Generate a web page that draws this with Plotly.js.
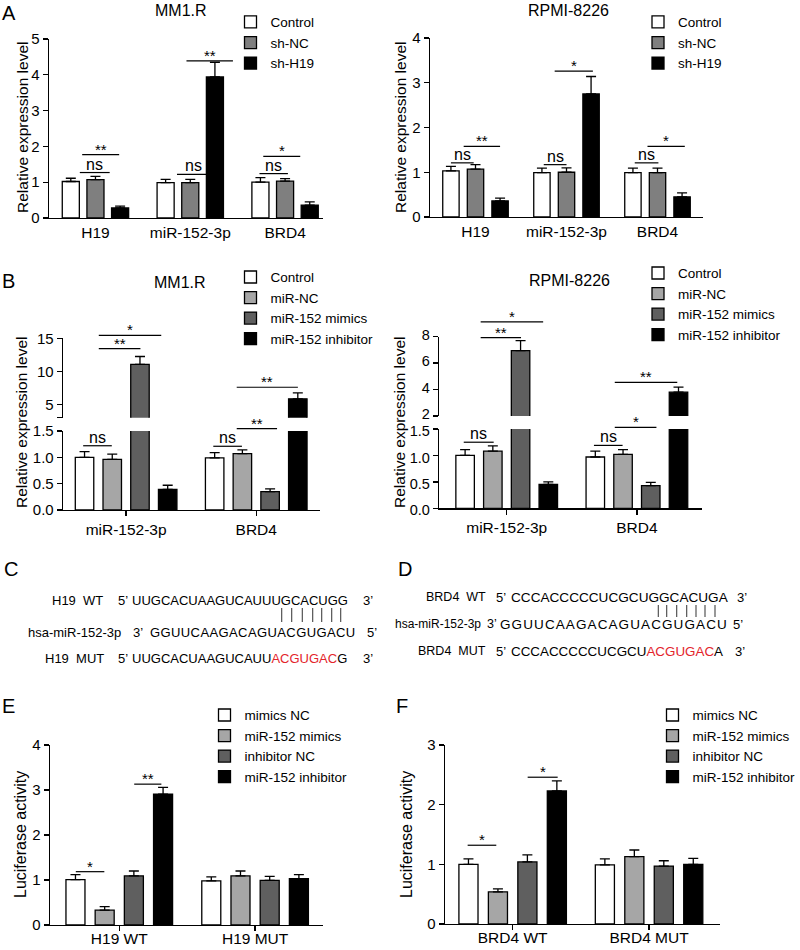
<!DOCTYPE html>
<html><head><meta charset="utf-8">
<script src="https://cdn.plot.ly/plotly-3.0.1.min.js"></script>
<style>html,body{margin:0;padding:0;background:#fff}#chart{width:800px;height:950px}</style>
</head><body><div id="chart"></div>
<script>
// ================= DATA =================
const catsA = ['H19', 'miR-152-3p', 'BRD4'];
const groupsA = ['Control', 'sh-NC', 'sh-H19'];
const aMM1R_control = [1.02, 0.99, 1.00];
const aMM1R_shNC    = [1.07, 0.99, 1.03];
const aMM1R_shH19   = [0.28, 3.94, 0.36];
const aMM1R_control_sem = [0.09, 0.09, 0.13];
const aMM1R_shNC_sem    = [0.09, 0.09, 0.07];
const aMM1R_shH19_sem   = [0.05, 0.41, 0.09];
const aRPMI_control = [1.03, 0.99, 0.99];
const aRPMI_shNC    = [1.07, 1.00, 0.99];
const aRPMI_shH19   = [0.36, 2.75, 0.45];
const aRPMI_control_sem = [0.10, 0.10, 0.10];
const aRPMI_shNC_sem    = [0.10, 0.10, 0.10];
const aRPMI_shH19_sem   = [0.06, 0.39, 0.09];

const catsB = ['miR-152-3p', 'BRD4'];
const groupsB = ['Control', 'miR-NC', 'miR-152 mimics', 'miR-152 inhibitor'];
const bMM1R_control   = [1.00, 0.99];
const bMM1R_miRNC     = [0.96, 1.07];
const bMM1R_mimics    = [11.05, 0.35];
const bMM1R_inhibitor = [0.39, 5.85];
const bMM1R_control_sem   = [0.11, 0.10];
const bMM1R_miRNC_sem     = [0.10, 0.07];
const bMM1R_mimics_sem    = [1.20, 0.05];
const bMM1R_inhibitor_sem = [0.08, 0.90];
const bRPMI_control   = [1.00, 0.97];
const bRPMI_miRNC     = [1.08, 1.02];
const bRPMI_mimics    = [6.95, 0.43];
const bRPMI_inhibitor = [0.45, 3.80];
const bRPMI_control_sem   = [0.11, 0.11];
const bRPMI_miRNC_sem     = [0.10, 0.09];
const bRPMI_mimics_sem    = [0.75, 0.06];
const bRPMI_inhibitor_sem = [0.05, 0.38];

const groupsEF = ['mimics NC', 'miR-152 mimics', 'inhibitor NC', 'miR-152 inhibitor'];
const catsE = ['H19 WT', 'H19 MUT'];
const eMimicsNC    = [1.01, 0.98];
const eMimics      = [0.33, 1.09];
const eInhibitorNC = [1.09, 0.99];
const eInhibitor   = [2.91, 1.03];
const eMimicsNC_sem    = [0.11, 0.09];
const eMimics_sem      = [0.08, 0.11];
const eInhibitorNC_sem = [0.11, 0.09];
const eInhibitor_sem   = [0.15, 0.09];
const catsF = ['BRD4 WT', 'BRD4 MUT'];
const fMimicsNC    = [1.00, 0.99];
const fMimics      = [0.54, 1.13];
const fInhibitorNC = [1.04, 0.97];
const fInhibitor   = [2.23, 1.00];
const fMimicsNC_sem    = [0.09, 0.10];
const fMimics_sem      = [0.05, 0.11];
const fInhibitorNC_sem = [0.12, 0.09];
const fInhibitor_sem   = [0.17, 0.10];

// sequences (panels C, D)
const h19WT   = 'UUGCACUAAGUCAUUUGCACUGG';
const h19MutPre = 'UUGCACUAAGUCAUU', h19MutSite = 'ACGUGAC', h19MutPost = 'G';
const miR152  = 'GGUUCAAGACAGUACGUGACU';
const brd4WT  = 'CCCACCCCCUCGCUGGCACUGA';
const brd4MutPre = 'CCCACCCCCUCGCU', brd4MutSite = 'ACGUGAC', brd4MutPost = 'A';

// ================= STYLE / LAYOUT HELPERS =================
const FONT = 'Liberation Sans, Arial, Helvetica, sans-serif';
const W = 800, H = 950;
const colorsA = ['#ffffff', '#7f7f7f', '#000000'];
const colorsB = ['#ffffff', '#a6a6a6', '#5f5f5f', '#000000'];
const RED = '#e3242b';

function xAx(l, r, range, anchor, cats, ticks, standoff) {
  return {domain: [l / W, r / W], range: range, anchor: anchor,
    tickvals: cats.map((c, i) => i), ticktext: cats, ticks: ticks ? 'outside' : '',
    ticklen: 5, tickwidth: 1.3, tickcolor: '#000', showline: true, linecolor: '#000', linewidth: 1.3,
    showgrid: false, zeroline: false, fixedrange: true, tickfont: {size: 15.5},
    ticklabelstandoff: standoff || 0};
}
function yAx(bottom, top, range, anchor, tv, tt, fs, shift) {
  return {domain: [1 - bottom / H, 1 - top / H], range: range, anchor: anchor,
    tickvals: tv, ticktext: tt || tv.map(String), ticks: 'outside', ticklen: 5, tickwidth: 1.3,
    tickcolor: '#000', showline: true, linecolor: '#000', linewidth: 1.3,
    showgrid: false, zeroline: false, fixedrange: true, tickfont: {size: fs || 15},
    ticklabelshift: shift || 0};
}

function barTraces(cats, names, vals, sems, colors, xa, yas, legendId, slot, bw) {
  const out = [];
  const n = names.length;
  const xs = cats.map((c, i) => i);
  yas.forEach((ya, k) => {
    names.forEach((nm, i) => {
      const center = (i - (n - 1) / 2) * slot;
      out.push({type: 'bar', x: xs, y: vals[i], name: nm, xaxis: xa, yaxis: ya,
        width: bw, offset: center - bw / 2,
        marker: {color: colors[i], line: {color: '#000', width: 1.3}},
        error_y: {type: 'data', symmetric: false, array: sems[i], arrayminus: sems[i].map(() => 0),
          color: '#000', thickness: 1.3, width: 5},
        legend: legendId, showlegend: k === 0, hoverinfo: 'skip'});
    });
  });
  return out;
}

const layout = {
  width: W, height: H, margin: {l: 0, r: 0, t: 0, b: 0, autoexpand: false},
  paper_bgcolor: '#ffffff', plot_bgcolor: 'rgba(0,0,0,0)',
  font: {family: FONT, size: 15, color: '#000'}, barmode: 'overlay', showlegend: true,
  xaxis:  xAx(49, 323, [-0.49, 2.4], 'y', catsA, false),
  yaxis:  yAx(218, 39, [0, 5], 'x', [0, 1, 2, 3, 4, 5]),
  xaxis2: xAx(430, 703, [-0.5, 2.5], 'y2', catsA, false),
  yaxis2: yAx(217, 38, [0, 4], 'x2', [0, 1, 2, 3, 4]),
  xaxis3: xAx(63, 320, [-0.485, 1.49], 'y3', catsB, true),
  yaxis3: yAx(510, 431, [0, 1.5], 'x3', [0, 0.5, 1, 1.5], ['0.0', '0.5', '1.0', '1.5']),
  yaxis4: yAx(417.7, 338.3, [3, 15], 'x3', [3, 5, 10, 15], ['', '5', '10', '15']),
  xaxis4: xAx(439, 702, [-0.52, 1.5], 'y5', catsB, true),
  yaxis5: yAx(508.3, 429, [0, 1.5], 'x4', [0, 0.5, 1, 1.5], ['0.0', '0.5', '1.0', '1.5'], 14.5, 2),
  yaxis6: yAx(416, 336.7, [2, 8], 'x4', [2, 4, 6, 8], null, 14.5, -2),
  xaxis5: xAx(50, 323, [-0.51, 1.5], 'y7', catsE, true, -6),
  yaxis7: yAx(925, 745, [0, 4], 'x5', [0, 1, 2, 3, 4]),
  xaxis6: xAx(445, 720, [-0.496, 1.52], 'y8', catsF, true, -6),
  yaxis8: yAx(924, 745, [0, 3], 'x6', [0, 1, 2, 3]),
  shapes: [], annotations: []
};

function legendAt(cx, firstRowCy) {
  return {x: (cx - 25) / W, y: 1 - (firstRowCy - 15.3) / H, xanchor: 'left', yanchor: 'top',
    bgcolor: 'rgba(0,0,0,0)', borderwidth: 0, traceorder: 'normal',
    font: {family: FONT, size: 13.5, color: '#000'}, itemclick: false, itemdoubleclick: false};
}
layout.legend  = legendAt(255.5, 22);
layout.legend2 = legendAt(663, 22);
layout.legend3 = legendAt(255.5, 277);
layout.legend4 = legendAt(663, 273);
layout.legend5 = legendAt(229.5, 715);
layout.legend6 = legendAt(677.5, 715);

// ================= TRACES =================
let traces = [];
traces = traces.concat(barTraces(catsA, groupsA, [aMM1R_control, aMM1R_shNC, aMM1R_shH19],
  [aMM1R_control_sem, aMM1R_shNC_sem, aMM1R_shH19_sem], colorsA, 'x', ['y'], 'legend', 0.26, 0.18));
traces = traces.concat(barTraces(catsA, groupsA, [aRPMI_control, aRPMI_shNC, aRPMI_shH19],
  [aRPMI_control_sem, aRPMI_shNC_sem, aRPMI_shH19_sem], colorsA, 'x2', ['y2'], 'legend2', 0.27, 0.18));
traces = traces.concat(barTraces(catsB, groupsB, [bMM1R_control, bMM1R_miRNC, bMM1R_mimics, bMM1R_inhibitor],
  [bMM1R_control_sem, bMM1R_miRNC_sem, bMM1R_mimics_sem, bMM1R_inhibitor_sem], colorsB, 'x3', ['y3', 'y4'], 'legend3', 0.213, 0.142));
traces = traces.concat(barTraces(catsB, groupsB, [bRPMI_control, bRPMI_miRNC, bRPMI_mimics, bRPMI_inhibitor],
  [bRPMI_control_sem, bRPMI_miRNC_sem, bRPMI_mimics_sem, bRPMI_inhibitor_sem], colorsB, 'x4', ['y5', 'y6'], 'legend4', 0.213, 0.142));
traces = traces.concat(barTraces(catsE, groupsEF, [eMimicsNC, eMimics, eInhibitorNC, eInhibitor],
  [eMimicsNC_sem, eMimics_sem, eInhibitorNC_sem, eInhibitor_sem], colorsB, 'x5', ['y7'], 'legend5', 0.215, 0.14));
traces = traces.concat(barTraces(catsF, groupsEF, [fMimicsNC, fMimics, fInhibitorNC, fInhibitor],
  [fMimicsNC_sem, fMimics_sem, fInhibitorNC_sem, fInhibitor_sem], colorsB, 'x6', ['y8'], 'legend6', 0.216, 0.14));

// ================= SIGNIFICANCE MARKS =================
function axKey(id, letter) { const n = id.slice(1); return letter + 'axis' + (n === '' ? '' : n); }
function toPX(xid, v) { const a = layout[axKey(xid, 'x')]; return a.domain[0] + (v - a.range[0]) / (a.range[1] - a.range[0]) * (a.domain[1] - a.domain[0]); }
function toPY(yid, v) { const a = layout[axKey(yid, 'y')]; return a.domain[0] + (v - a.range[0]) / (a.range[1] - a.range[0]) * (a.domain[1] - a.domain[0]); }
function addSig(list, xid, yids) {
  list.forEach(s => {
    const yid = yids[s.ax || 0];
    const x0 = toPX(xid, s.c + s.a), x1 = toPX(xid, s.c + s.b), y = toPY(yid, s.y);
    layout.shapes.push({type: 'line', xref: 'paper', yref: 'paper', x0: x0, x1: x1, y0: y, y1: y,
      line: {color: '#000', width: 1.2}});
    const isNs = s.t === 'ns';
    layout.annotations.push({xref: 'paper', yref: 'paper', x: (x0 + x1) / 2, y: y, yanchor: 'bottom',
      xanchor: 'center', text: s.t, showarrow: false, yshift: isNs ? -2 : -5,
      font: {size: isNs ? 16 : 15, color: '#000'}});
  });
}
addSig([
  {c: 0, a: -0.165, b: 0.15, y: 1.27, t: 'ns'}, {c: 0, a: -0.14, b: 0.25, y: 1.77, t: '**'},
  {c: 1, a: -0.14, b: 0.2, y: 1.22, t: 'ns'}, {c: 1, a: -0.04, b: 0.45, y: 4.39, t: '**'},
  {c: 2, a: -0.27, b: 0.03, y: 1.24, t: 'ns'}, {c: 2, a: -0.23, b: 0.16, y: 1.72, t: '*'}], 'x', ['y']);
addSig([
  {c: 0, a: -0.27, b: -0.02, y: 1.21, t: 'ns'}, {c: 0, a: -0.13, b: 0.27, y: 1.58, t: '**'},
  {c: 1, a: -0.25, b: 0, y: 1.17, t: 'ns'}, {c: 1, a: -0.13, b: 0.29, y: 3.26, t: '*'},
  {c: 2, a: -0.25, b: 0.01, y: 1.21, t: 'ns'}, {c: 2, a: -0.11, b: 0.3, y: 1.58, t: '*'}], 'x2', ['y2']);
addSig([
  {c: 0, a: -0.33, b: -0.11, y: 1.22, t: 'ns'}, {c: 0, a: -0.21, b: 0.11, y: 13.45, ax: 1, t: '**'},
  {c: 0, a: -0.21, b: 0.27, y: 15.45, ax: 1, t: '*'},
  {c: 1, a: -0.33, b: -0.11, y: 1.21, t: 'ns'}, {c: 1, a: -0.15, b: 0.16, y: 1.544, t: '**'},
  {c: 1, a: -0.15, b: 0.32, y: 7.6, ax: 1, t: '**'}], 'x3', ['y3', 'y4']);
addSig([
  {c: 0, a: -0.33, b: -0.1, y: 1.25, t: 'ns'}, {c: 0, a: -0.2, b: 0.11, y: 7.93, ax: 1, t: '**'},
  {c: 0, a: -0.2, b: 0.28, y: 9.12, ax: 1, t: '*'},
  {c: 1, a: -0.33, b: -0.11, y: 1.19, t: 'ns'}, {c: 1, a: -0.17, b: 0.15, y: 1.53, t: '*'},
  {c: 1, a: -0.17, b: 0.31, y: 4.55, ax: 1, t: '**'}], 'x4', ['y5', 'y6']);
addSig([{c: 0, a: -0.32, b: -0.11, y: 1.185, t: '*'}, {c: 0, a: 0.11, b: 0.31, y: 3.13, t: '**'}], 'x5', ['y7']);
addSig([{c: 0, a: -0.33, b: -0.12, y: 1.32, t: '*'}, {c: 0, a: 0.11, b: 0.33, y: 2.46, t: '*'}], 'x6', ['y8']);

// ================= TEXT =================
function txt(x, y, text, size, xanchor, extra) {
  layout.annotations.push(Object.assign({xref: 'paper', yref: 'paper', x: x / W, y: 1 - y / H,
    text: text, showarrow: false, xanchor: xanchor || 'left', yanchor: 'middle',
    font: {size: size, color: '#000', family: FONT}}, extra || {}));
}
// panel letters
[['A', 0, 12], ['B', 0, 280], ['C', 2, 568], ['D', 396, 568], ['E', 0, 705], ['F', 394, 705]]
  .forEach(p => txt(p[1], p[2] + 1, p[0], 20, 'left'));
// panel titles
txt(181, 11, 'MM1.R', 16, 'center'); txt(568, 11, 'RPMI-8226', 16, 'center');
txt(180, 282, 'MM1.R', 16, 'center'); txt(569, 280, 'RPMI-8226', 16, 'center');
// y titles
const yt = (x, y, t, s) => txt(x, y, t, s, 'center', {textangle: -90});
yt(22, 128, 'Relative expression level', 15.5); yt(400, 128, 'Relative expression level', 15.5);
yt(22, 423, 'Relative expression level', 15.5); yt(400, 423, 'Relative expression level', 15.5);
yt(20, 835, 'Luciferase activity', 16); yt(406, 834, 'Luciferase activity', 16);

// panel C
const q5 = '5\u2019', q3 = '3\u2019', sp2 = '\u00a0\u00a0';
const spaced = (s, ls) => '<span style="letter-spacing:' + ls + 'px">' + s + '</span>';
txt(50, 600, 'H19' + sp2 + 'WT', 13); txt(116, 600, q5, 13); txt(130, 600, h19WT, 13); txt(361, 600, q3, 13);
txt(26, 632, 'hsa-miR-152-3p', 13); txt(131, 632, q3, 13); txt(148, 632, spaced(miR152, 0.4), 13); txt(365, 632, q5, 13);
txt(43, 658, 'H19' + sp2 + 'MUT', 13); txt(116, 658, q5, 13);
txt(130, 658, h19MutPre + '<span style="color:' + RED + '">' + h19MutSite + '</span>' + h19MutPost, 13);
txt(361, 658, q3, 13);
// panel D
txt(424, 597, 'BRD4' + sp2 + 'WT', 12.5); txt(494, 597, q5, 13); txt(509, 597, brd4WT, 13.6); txt(735, 597, q3, 13);
txt(393, 624, 'hsa-miR-152-3p', 12); txt(485, 624, q3, 12.5); txt(498, 624, spaced(miR152, 1.1), 13.5); txt(731, 624, q5, 13);
txt(416, 651, 'BRD4' + sp2 + 'MUT', 12.5); txt(494, 651, q5, 13);
txt(509, 651, brd4MutPre + '<span style="color:' + RED + '">' + brd4MutSite + '</span>' + brd4MutPost, 13.4);
txt(733, 651, q3, 13);
// pairing ticks
[281.7, 291.7, 302.3, 312.7, 321.7, 331.7, 340.7].forEach(x => layout.shapes.push({type: 'line', xref: 'paper', yref: 'paper',
  x0: x / W, x1: x / W, y0: 1 - 608 / H, y1: 1 - 622 / H, line: {color: '#444', width: 1.1}}));
[658.3, 666.7, 676.7, 686.7, 696, 705, 715].forEach(x => layout.shapes.push({type: 'line', xref: 'paper', yref: 'paper',
  x0: x / W, x1: x / W, y0: 1 - 605 / H, y1: 1 - 617 / H, line: {color: '#444', width: 1.1}}));

Plotly.newPlot('chart', traces, layout, {displayModeBar: false, staticPlot: true});
</script>
</body></html>
